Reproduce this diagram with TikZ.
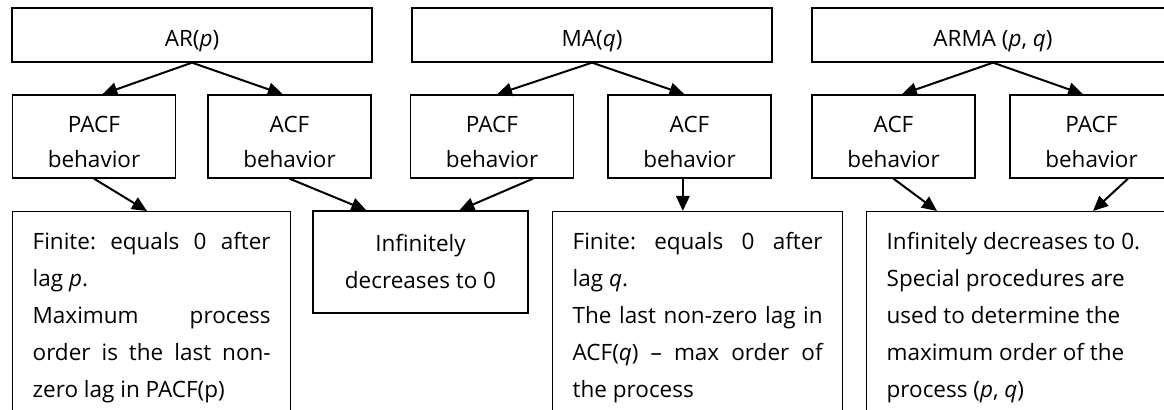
\documentclass[tikz,border=0pt]{standalone}
\usepackage{fontspec}
\setmainfont{Open Sans}
\usetikzlibrary{arrows.meta}
\newcommand\justline[1]{\makebox[\linewidth][s]{#1}}
\newcommand\behtext[1]{\parbox[c][49.8pt][t]{97.8pt}{\centering\rule{0pt}{22.8pt}#1}}
\frenchspacing

\begin{document}
\begin{tikzpicture}[x=0.6pt,y=-0.6pt,
	font=\fontsize{13.5}{22.2}\selectfont,
	every node/.style={inner sep=0pt},
	headbox/.style={draw,line width=0.8pt,minimum width=216pt,minimum height=32.4pt,text height=14.4pt,text depth=0pt},
	behbox/.style={draw,line width=0.8pt,minimum width=97.8pt,minimum height=49.8pt,font=\fontsize{13.5}{21}\selectfont},
	resbox/.style={draw,line width=0.8pt,anchor=north west,inner xsep=12pt},
	arr/.style={-{Triangle[length=9pt,width=8pt]},line width=1.2pt}]
		\useasboundingbox (0,0) rectangle (1164,410);
		\clip (0,0) rectangle (1164,410);
		\node[headbox] (ar) at (192,35) {AR(\textit{p})};
		\node[headbox] (ma) at (592,35) {MA(\textit{q})};
		\node[headbox,minimum width=217.2pt] (arma) at (993,35) {ARMA (\textit{p}, \textit{q})};
		\node[behbox] (arpacf) at (94,136.5) {\behtext{PACF\\behavior}};
		\node[behbox] (aracf) at (289.5,136.5) {\behtext{ACF\\behavior}};
		\node[behbox] (mapacf) at (492,136.5) {\behtext{PACF\\behavior}};
		\node[behbox] (maacf) at (689.5,136.5) {\behtext{ACF\\behavior}};
		\node[behbox] (armaacf) at (893.5,136.5) {\behtext{ACF\\behavior}};
		\node[behbox] (armapacf) at (1091.5,136.5) {\behtext{PACF\\behavior}};
		\node[resbox] (arres) at (12,211) {\parbox[t][240pt][t]{142.8pt}{\rule{0pt}{22.8pt}\justline{Finite: equals 0 after}\\
			lag \textit{p}.\\
			\justline{Maximum process}\\
			\justline{order is the last non-}\\
			zero lag in PACF(p)}};
		\node[draw,line width=0.8pt,minimum width=129pt,minimum height=61.2pt,align=center] (infdec) at (420.5,262) {Infinitely\\decreases to 0};
		\node[resbox] (mares) at (552,211) {\parbox[t][240pt][t]{150pt}{\rule{0pt}{22.8pt}\justline{Finite: equals 0 after}\\
			lag \textit{q}.\\
			\justline{The last non-zero lag in}\\
			\justline{ACF(\textit{q}) \textendash{} max order of}\\
			the process}};
		\node[resbox] (armares) at (866,211) {\parbox[t][240pt][t]{162pt}{\rule{0pt}{22.8pt}Infinitely decreases to 0.\\
			Special procedures are\\
			used to determine the\\
			maximum order of the\\
			process (\textit{p}, \textit{q})}};
		\draw[arr] (ar.south) -- ([xshift=5pt]arpacf.north);
		\draw[arr] (ar.south) -- ([xshift=-4pt]aracf.north);
		\draw[arr] (ma.south) -- ([xshift=3pt]mapacf.north);
		\draw[arr] (ma.south) -- ([xshift=-3pt]maacf.north);
		\draw[arr] (arma.south) -- ([xshift=5pt]armaacf.north);
		\draw[arr] (arma.south) -- ([xshift=-5pt]armapacf.north);
		\draw[arr] (arpacf.south) -- ([xshift=81pt]arres.north west);
		\draw[arr] (aracf.south) -- ([xshift=32.4pt]infdec.north west);
		\draw[arr] ([xshift=24.6pt]mapacf.south) -- ([xshift=88.2pt]infdec.north west);
		\draw[arr] ([xshift=-4pt]maacf.south) -- ([xshift=-4pt]maacf.south |- mares.north);
		\draw[arr] (armaacf.south) -- ([xshift=42.6pt]armares.north west);
		\draw[arr] ([xshift=21.9pt]armapacf.south) -- ([xshift=136.2pt]armares.north west);
\end{tikzpicture}
\end{document}
